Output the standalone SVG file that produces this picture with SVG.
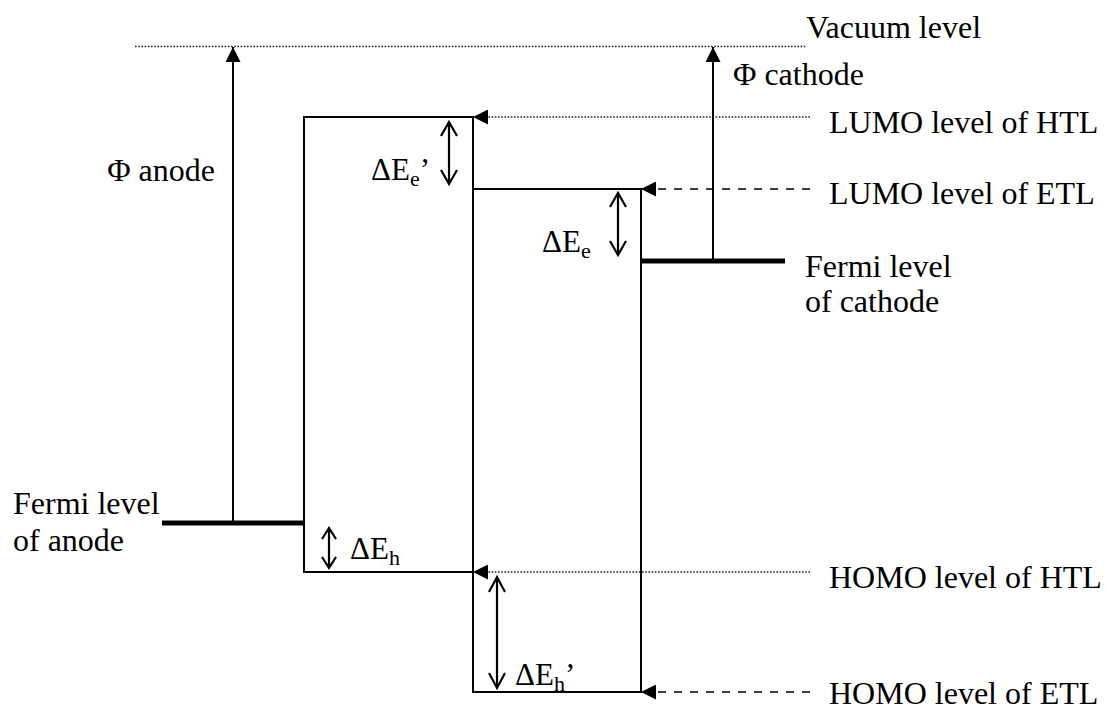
<svg xmlns="http://www.w3.org/2000/svg" width="1105" height="711" viewBox="0 0 1105 711">
<defs>
<style>
.t{font-family:"Liberation Serif","Times New Roman",serif;font-size:32px;fill:#000}
.d{font-family:"Liberation Serif","Times New Roman",serif;font-size:31px;fill:#000}
.s{font-size:22px}
.ln{stroke:#000;stroke-width:2;fill:none}
.thick{stroke:#000;stroke-width:5;fill:none}
.dot{stroke:#222;stroke-width:1.3;stroke-dasharray:1.6 1.6;fill:none}
.dash{stroke:#000;stroke-width:1.6;stroke-dasharray:8 8;fill:none}
.open{stroke:#000;stroke-width:2.2;fill:none}
</style>
<marker id="fill" viewBox="0 0 10 10" refX="10" refY="5" markerWidth="15" markerHeight="15" markerUnits="userSpaceOnUse" orient="auto">
<path d="M0,0 L10,5 L0,10 Z" fill="#000"/>
</marker>
</defs>

<g id="vacuum">
<line class="dot" x1="135" y1="46.5" x2="807" y2="46.5"/>
<text class="t" x="806" y="38">Vacuum level</text>
</g>

<g id="anode">
<line class="thick" x1="162" y1="523" x2="304" y2="523"/>
<text class="t" x="13" y="514">Fermi level</text>
<text class="t" x="13" y="551">of anode</text>
<text class="t" x="215" y="181" text-anchor="end">Φ anode</text>
</g>

<g id="htl">
<path class="ln" d="M304,523 V117 H473 V572 H304 V523"/>
</g>

<g id="etl">
<path class="ln" d="M473,189 H641 V692 H473 V572"/>
</g>

<g id="cathode">
<line class="thick" x1="641" y1="261" x2="785" y2="261"/>
<text class="t" x="805" y="277">Fermi level</text>
<text class="t" x="805" y="312">of cathode</text>
<text class="t" x="733" y="85">Φ cathode</text>
</g>

<g id="level-labels">
<text class="t" x="829" y="133">LUMO level of HTL</text>
<text class="t" x="829" y="204">LUMO level of ETL</text>
<text class="t" x="829" y="588">HOMO level of HTL</text>
<text class="t" x="829" y="704">HOMO level of ETL</text>
</g>

<g id="offset-labels">
<text class="d" x="371" y="180">ΔE<tspan class="s" dy="6">e</tspan><tspan dy="-6">’</tspan></text>
<text class="d" x="542" y="252">ΔE<tspan class="s" dy="6">e</tspan></text>
<text class="d" x="350" y="559">ΔE<tspan class="s" dy="6">h</tspan></text>
<text class="d" x="515" y="685">ΔE<tspan class="s" dy="6">h</tspan><tspan dy="-6">’</tspan></text>
</g>

<g id="connectors">
<line class="ln" x1="233" y1="523" x2="233" y2="47" marker-end="url(#fill)"/>
<line class="ln" x1="713" y1="261" x2="713" y2="47" marker-end="url(#fill)"/>
<line class="dot" x1="810" y1="117" x2="473" y2="117" marker-end="url(#fill)"/>
<line class="dash" x1="810" y1="189" x2="641" y2="189" marker-end="url(#fill)"/>
<line class="dot" x1="810" y1="572" x2="473" y2="572" marker-end="url(#fill)"/>
<line class="dash" x1="810" y1="692" x2="641" y2="692" marker-end="url(#fill)"/>
<path class="open" d="M449,122 V184 M441,136 L449,122 L457,136 M441,170 L449,184 L457,170"/>
<path class="open" d="M618,193 V255 M610,207 L618,193 L626,207 M610,241 L618,255 L626,241"/>
<path class="open" d="M329,528 V568 M322,539 L329,528 L336,539 M322,557 L329,568 L336,557"/>
<path class="open" d="M497,577 V688 M489,592 L497,577 L505,592 M489,673 L497,688 L505,673"/>
</g>
</svg>
